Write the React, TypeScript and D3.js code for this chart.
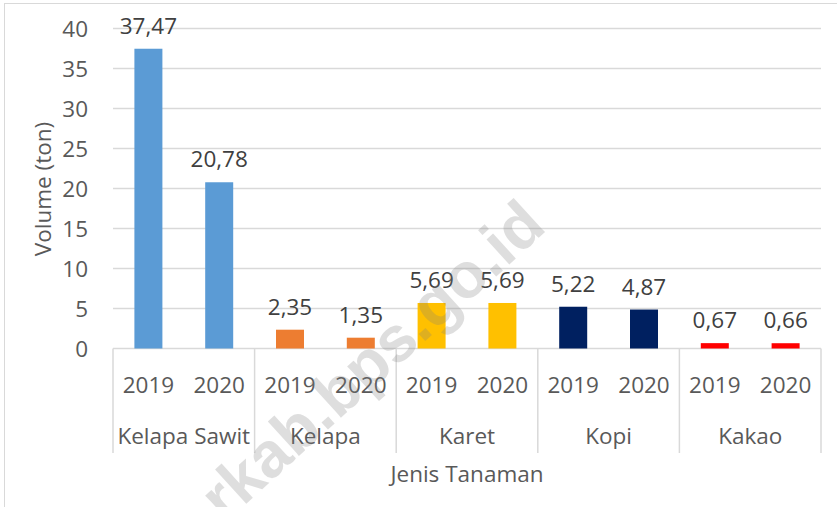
import React from "react";
import * as d3 from "d3";

const categories = ["Kelapa Sawit", "Kelapa", "Karet", "Kopi", "Kakao"];
const years = ["2019", "2020"];
const values2019 = [37.47, 2.35, 5.69, 5.22, 0.67];
const values2020 = [20.78, 1.35, 5.69, 4.87, 0.66];
const colors = ["#5B9BD5", "#ED7D31", "#FFC000", "#002060", "#FF0000"];
const yTicks = [0, 5, 10, 15, 20, 25, 30, 35, 40];
const yTitle = "Volume (ton)";
const xTitle = "Jenis Tanaman";
const watermark = "rkab.bps.go.id";

const W = 837;
const H = 507;
const left = 113;
const right = 821;
const top = 28.5;
const bottom = 348.5;
const font = "'Open Sans', 'Noto Sans', sans-serif";
const fs = 22.5;

export default function App() {
  const y = d3.scaleLinear().domain([0, 40]).range([bottom, top]);
  const xGroup = d3.scaleBand<string>().domain(categories).range([left, right]).padding(0);
  const xSub = d3.scaleBand<string>().domain(years).range([0, xGroup.bandwidth()]).padding(0);
  const barW = 28;
  const fmt = (v: number) => v.toFixed(2).replace(".", ",");
  const series = [values2019, values2020];

  return (
    <svg width={W} height={H} style={{ position: "absolute", left: 0, top: 0, background: "#fff" }} fontFamily={font}>
      <rect x={4.5} y={3.5} width={W + 10} height={H + 10} fill="#fff" stroke="#d9d9d9" strokeWidth={1} />
      {yTicks.map((t) => (
        <g key={t}>
          <line x1={left} x2={right} y1={y(t)} y2={y(t)} stroke="#d9d9d9" strokeWidth={1.5} />
          <text x={88} y={y(t) + 8} textAnchor="end" fontSize={fs} fill="#595959">{t}</text>
        </g>
      ))}
      {d3.range(categories.length + 1).map((i) => {
        const xx = i < categories.length ? xGroup(categories[i])! : right;
        return <line key={"s" + i} x1={xx} x2={xx} y1={bottom} y2={453} stroke="#d9d9d9" strokeWidth={1.5} />;
      })}
      {categories.map((c, ci) => (
        <g key={c}>
          {years.map((yr, yi) => {
            const v = series[yi][ci];
            const cx = xGroup(c)! + xSub(yr)! + xSub.bandwidth() / 2;
            return (
              <g key={yr}>
                <rect x={cx - barW / 2} y={y(v)} width={barW} height={bottom - y(v)} fill={colors[ci]} />
                <text x={cx} y={y(v) - 15} textAnchor="middle" fontSize={fs} fill="#404040">{fmt(v)}</text>
                <text x={cx} y={392.5} textAnchor="middle" fontSize={fs} fill="#595959">{yr}</text>
              </g>
            );
          })}
          <text x={xGroup(c)! + xGroup.bandwidth() / 2} y={444.3} textAnchor="middle" fontSize={fs} fill="#595959">{c}</text>
        </g>
      ))}
      <text x={(left + right) / 2} y={481.5} textAnchor="middle" fontSize={fs} fill="#595959">{xTitle}</text>
      <text transform={`translate(51,189) rotate(-90)`} textAnchor="middle" fontSize={fs} fill="#595959">{yTitle}</text>
      <text
        transform="translate(518,196) rotate(-42.3)"
        textAnchor="end"
        fontFamily="'Liberation Sans', Arial, sans-serif"
        fontWeight="bold"
        fontSize={64}
        fill="#7f7f7f"
        opacity={0.25}
        dy="0.7em"
      >
        {watermark}
      </text>
    </svg>
  );
}
